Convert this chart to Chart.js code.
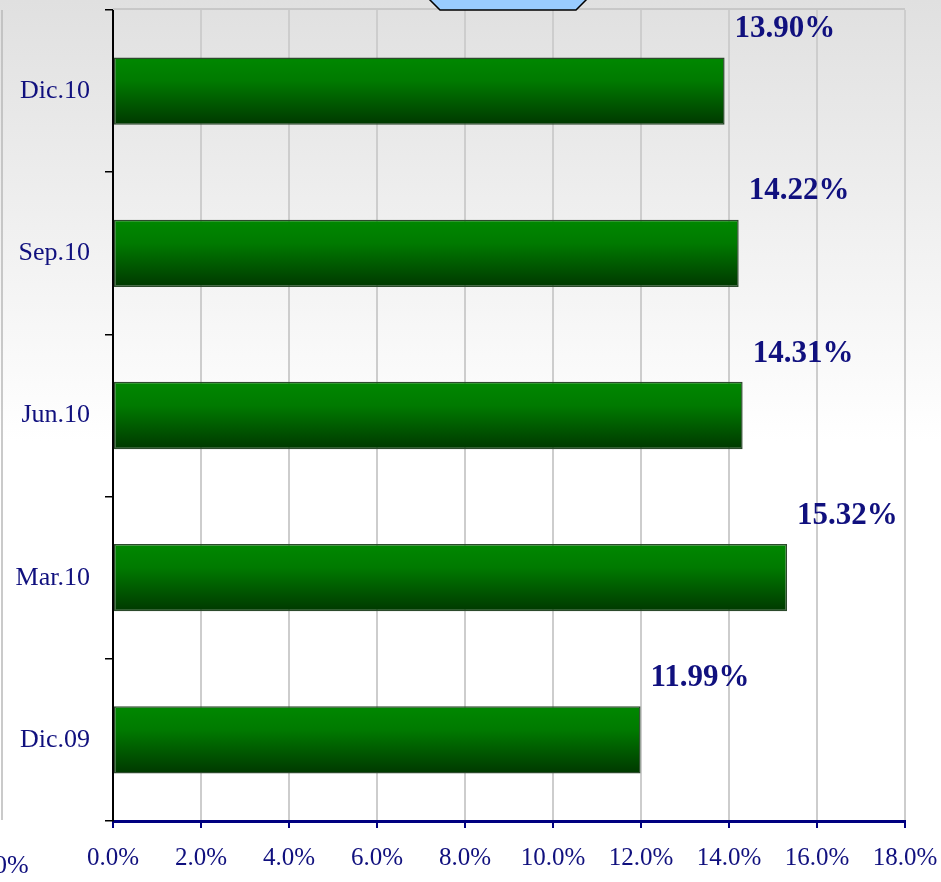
<!DOCTYPE html>
<html>
<head>
<meta charset="utf-8">
<script src="https://cdn.jsdelivr.net/npm/chart.js@4/dist/chart.umd.min.js"></script>
<style>
  html, body { margin: 0; padding: 0; background: #fff; }
  #wrap { width: 941px; height: 882px; position: relative; }
</style>
</head>
<body>
<div id="wrap"><canvas id="chart" width="941" height="882"></canvas></div>
<script>
// Datos del gráfico (de abajo hacia arriba)
const periodos = ['Dic.09', 'Mar.10', 'Jun.10', 'Sep.10', 'Dic.10'];
const valores = [11.99, 15.32, 14.31, 14.22, 13.90];
const ticksX = [0, 2, 4, 6, 8, 10, 12, 14, 16, 18];

const azul = '#10107e';
const fuente = "'Liberation Serif', 'Times New Roman', serif";

// Fondo degradado, marco superior y adornos
const fondoPlugin = {
    id: 'fondo',
    beforeDraw(chart) {
        const ctx = chart.ctx;
        const g = ctx.createLinearGradient(0, 0, 0, chart.height);
        g.addColorStop(0, '#e0e0e0');
        g.addColorStop(0.5, '#ffffff');
        g.addColorStop(1, '#ffffff');
        ctx.save();
        ctx.fillStyle = g;
        ctx.fillRect(0, 0, chart.width, chart.height);
        // resto del gráfico vecino a la izquierda
        ctx.strokeStyle = '#b8b8b8';
        ctx.lineWidth = 1.5;
        ctx.beginPath();
        ctx.moveTo(2, 10);
        ctx.lineTo(2, 820);
        ctx.stroke();
        ctx.fillStyle = azul;
        ctx.font = '26px ' + fuente;
        ctx.textBaseline = 'middle';
        ctx.textAlign = 'left';
        ctx.fillText('0%', -6, 866);
        ctx.restore();
    },
    afterDraw(chart) {
        const ctx = chart.ctx;
        const a = chart.chartArea;
        ctx.save();
        // línea superior del marco
        ctx.strokeStyle = '#c8c8c8';
        ctx.lineWidth = 2;
        ctx.beginPath();
        ctx.moveTo(a.left, a.top - 1);
        ctx.lineTo(a.right, a.top - 1);
        ctx.stroke();
        // hexágono cortado arriba
        ctx.fillStyle = '#99ccff';
        ctx.strokeStyle = '#000';
        ctx.lineWidth = 1.5;
        ctx.beginPath();
        ctx.moveTo(428, -2);
        ctx.lineTo(440, 10);
        ctx.lineTo(576, 10);
        ctx.lineTo(588, -2);
        ctx.closePath();
        ctx.fill();
        ctx.stroke();
        ctx.restore();
    }
};

// Etiquetas de valor sobre las barras
const etiquetasPlugin = {
    id: 'etiquetas',
    afterDatasetsDraw(chart) {
        const ctx = chart.ctx;
        const meta = chart.getDatasetMeta(0);
        ctx.save();
        ctx.fillStyle = azul;
        ctx.font = 'bold 31px ' + fuente;
        ctx.textAlign = 'left';
        ctx.textBaseline = 'middle';
        meta.data.forEach((bar, i) => {
            ctx.fillText(valores[i].toFixed(2) + '%', bar.x + 10, bar.y - 62);
        });
        ctx.restore();
    }
};

const ctx = document.getElementById('chart');
new Chart(ctx, {
    type: 'bar',
    data: {
        labels: periodos,
        datasets: [{
            data: valores,
            backgroundColor: function(c) {
                const chart = c.chart;
                if (!chart.chartArea) return '#006400';
                const y = chart.scales.y.getPixelForValue(c.dataIndex);
                const h = chart.scales.y.height / periodos.length * 0.415;
                const g = chart.ctx.createLinearGradient(0, y - h / 2, 0, y + h / 2);
                g.addColorStop(0, '#008800');
                g.addColorStop(0.35, '#007a00');
                g.addColorStop(1, '#003800');
                return g;
            },
            borderColor: '#2c4a2c',
            borderWidth: 1.5,
            borderSkipped: false,
            categoryPercentage: 0.415,
            barPercentage: 1
        }]
    },
    options: {
        indexAxis: 'y',
        responsive: false,
        animation: false,
        devicePixelRatio: 1,
        layout: { padding: { top: 10, right: 36, bottom: 0, left: 0 } },
        plugins: {
            legend: { display: false },
            tooltip: { enabled: false }
        },
        scales: {
            x: {
                min: 0,
                max: 18,
                afterBuildTicks(scale) {
                    scale.ticks = ticksX.map(v => ({ value: v }));
                },
                afterFit(scale) {
                    scale.height = 61;
                    scale.paddingLeft = 0;
                    scale.paddingRight = 0;
                },
                border: { display: true, color: '#000080', width: 3 },
                grid: {
                    color: '#cdcdcd',
                    lineWidth: 2,
                    tickColor: '#000080',
                    tickWidth: 2,
                    tickLength: 7
                },
                ticks: {
                    color: azul,
                    font: { family: fuente, size: 25 },
                    padding: 15,
                    maxRotation: 0,
                    callback: v => v.toFixed(1) + '%'
                }
            },
            y: {
                reverse: true,
                afterFit(scale) {
                    scale.width = 113;
                    scale.paddingTop = 0;
                    scale.paddingBottom = 0;
                },
                border: { display: true, color: '#000', width: 2 },
                grid: {
                    offset: true,
                    drawOnChartArea: false,
                    color: '#000',
                    tickLength: 8,
                    lineWidth: 1.5
                },
                ticks: {
                    color: azul,
                    font: { family: fuente, size: 26 },
                    padding: 15
                }
            }
        }
    },
    plugins: [fondoPlugin, etiquetasPlugin]
});
</script>
</body>
</html>
